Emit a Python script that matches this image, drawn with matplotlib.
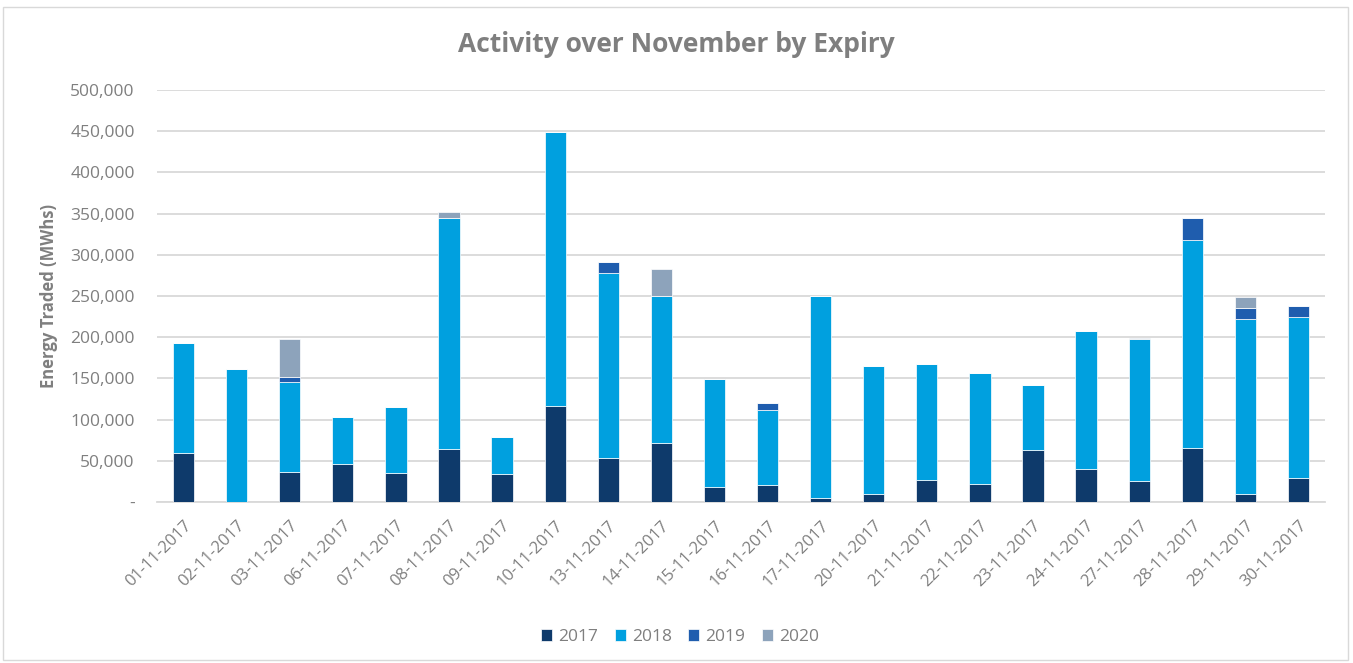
import matplotlib
matplotlib.use("Agg")
import matplotlib.pyplot as plt
import numpy as np
from matplotlib.patches import Rectangle
from matplotlib.ticker import FuncFormatter

dates = ["01-11-2017", "02-11-2017", "03-11-2017", "06-11-2017", "07-11-2017",
         "08-11-2017", "09-11-2017", "10-11-2017", "13-11-2017", "14-11-2017",
         "15-11-2017", "16-11-2017", "17-11-2017", "20-11-2017", "21-11-2017",
         "22-11-2017", "23-11-2017", "24-11-2017", "27-11-2017", "28-11-2017",
         "29-11-2017", "30-11-2017"]
exp_2017 = [59000, 0, 37000, 46500, 35600, 64000, 34000, 117000, 54000, 71600, 18600,
            21000, 5000, 10000, 27000, 21500, 63500, 40500, 26000, 66000, 10000, 28700]
exp_2018 = [133500, 161500, 108500, 57000, 79500, 280500, 44500, 332500, 224000, 178000, 131000,
            90500, 244500, 154500, 140200, 135000, 78500, 167000, 171500, 251500, 212500, 195800]
exp_2019 = [0, 0, 5700, 0, 0, 0, 0, 0, 12900, 0, 0,
            9000, 0, 0, 0, 0, 0, 0, 0, 26600, 12700, 13000]
exp_2020 = [0, 0, 47000, 0, 0, 7000, 0, 0, 0, 33500, 0,
            0, 0, 0, 0, 0, 0, 0, 1500, 0, 13000, 0]

series = [("2017", exp_2017, "#0E3A6B"),
          ("2018", exp_2018, "#00A0DF"),
          ("2019", exp_2019, "#1F5DAE"),
          ("2020", exp_2020, "#8DA3BB")]

TEXT = "#7F7F7F"
GRID = "#D9D9D9"

plt.rcParams["font.family"] = ["Open Sans", "DejaVu Sans"]

fig = plt.figure(figsize=(13.53, 6.63), dpi=100)
ax = fig.add_axes([157 / 1353, 1 - 502 / 663, (1325 - 157) / 1353, (502 - 90) / 663])

x = np.arange(len(dates))
bottom = np.zeros(len(dates))
for name, vals, color in series:
    vals = np.array(vals, dtype=float)
    ax.bar(x, vals, 0.4, bottom=bottom, color=color, label=name,
           edgecolor="white", linewidth=0.5, zorder=3)
    bottom += vals

ax.set_xlim(-0.5, len(dates) - 0.5)
ax.set_ylim(0, 500000)
ax.set_yticks(np.arange(0, 500001, 50000))
ax.yaxis.set_major_formatter(FuncFormatter(lambda v, p: "-" if v == 0 else f"{int(v):,}"))
ax.set_xticks(x)
ax.set_xticklabels(dates, rotation=45, ha="right", rotation_mode="anchor")
ax.tick_params(axis="x", length=0, pad=11, labelsize=12, colors=TEXT)
ax.tick_params(axis="y", length=0, pad=16, labelsize=12.5, colors=TEXT)
ax.grid(axis="y", color=GRID, linewidth=1.3, zorder=0)
for s in ("left", "right", "top"):
    ax.spines[s].set_visible(False)
ax.spines["bottom"].set_color(GRID)
ax.spines["bottom"].set_linewidth(1.3)

ax.set_ylabel("Energy Traded (MWhs)", color=TEXT, fontsize=12, fontweight="bold", labelpad=9)
fig.text(676 / 1353, 1 - 45 / 663, "Activity over November by Expiry", ha="center", va="center",
         color=TEXT, fontsize=19, fontweight="bold")

fig.legend(loc="center", bbox_to_anchor=(680 / 1353, 1 - 637 / 663), ncol=4, frameon=False,
           fontsize=12.5, labelcolor=TEXT, handlelength=0.63, handleheight=0.63,
           handletextpad=0.35, columnspacing=0.95)

fig.patches.append(Rectangle((3 / 1353, 3 / 663), 1345 / 1353, 653 / 663, transform=fig.transFigure,
                             fill=False, edgecolor=GRID, linewidth=1))

fig.savefig("out.png", dpi=100, facecolor="white")
